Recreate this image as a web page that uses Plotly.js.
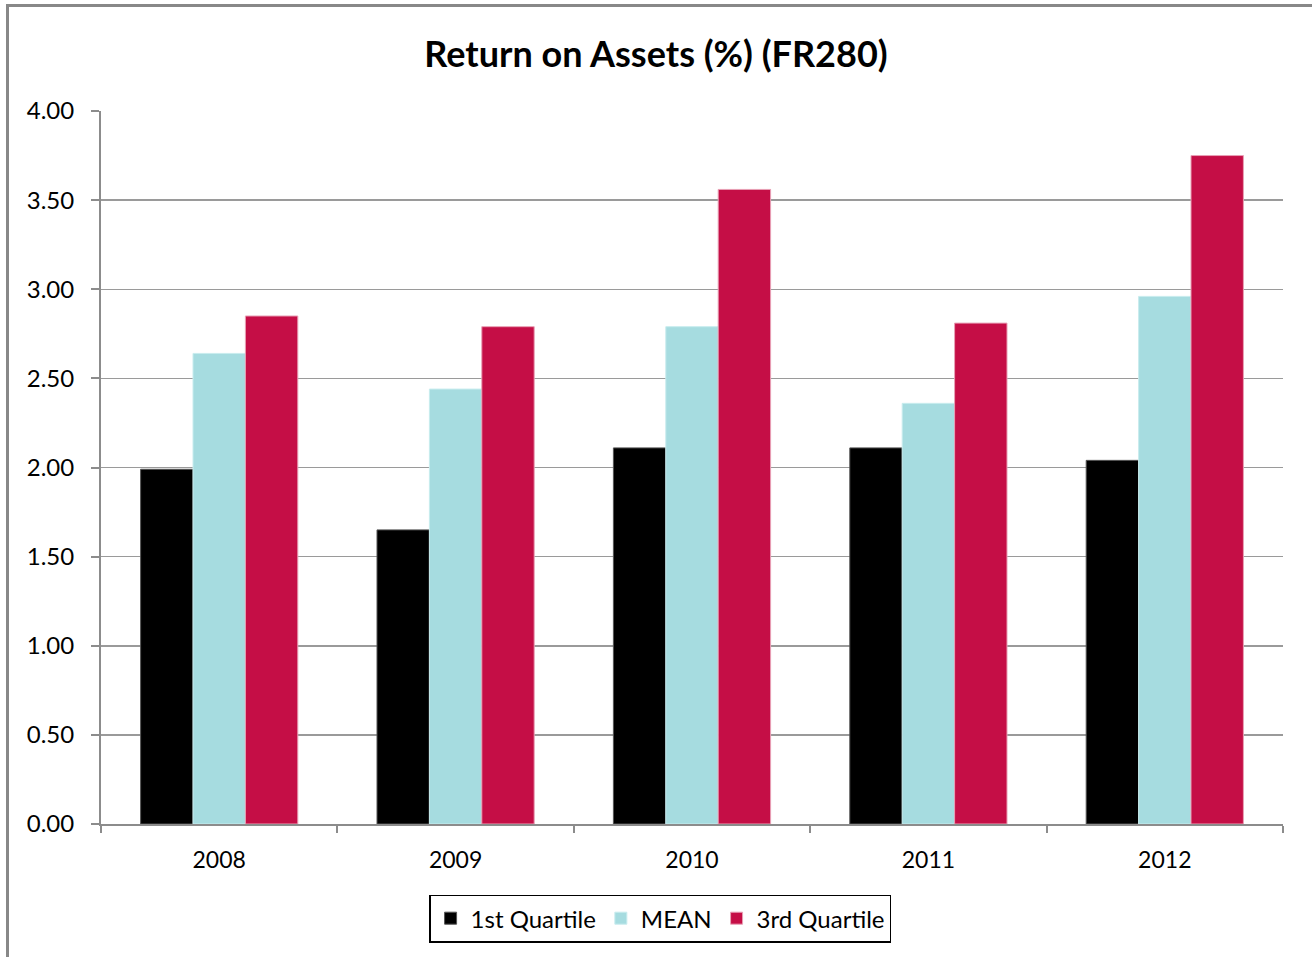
<!DOCTYPE html>
<html>
<head>
<meta charset="utf-8">
<script src="https://cdn.plot.ly/plotly-3.0.1.min.js"></script>
<style>
  html, body { margin: 0; padding: 0; background: #fff; }
  #wrap { position: relative; width: 1312px; height: 957px; overflow: hidden; }
  #chart { position: absolute; left: 0; top: 0; width: 1312px; height: 957px; }
  #frame { position: absolute; left: 6px; top: 4px; width: 1303px; height: 970px;
           border: 3px solid #888888; pointer-events: none; }
</style>
</head>
<body>
<div id="wrap">
  <div id="chart"></div>
  <div id="frame"></div>
</div>
<script>
const years = ['2008', '2009', '2010', '2011', '2012'];
const firstQuartile = [1.99, 1.65, 2.11, 2.11, 2.04];
const meanValues = [2.64, 2.44, 2.79, 2.36, 2.96];
const thirdQuartile = [2.85, 2.79, 3.56, 2.81, 3.75];
const seriesNames = ['1st Quartile', 'MEAN', '3rd Quartile'];

const FONT = 'Lato, "Open Sans", "DejaVu Sans", sans-serif';

const traces = [
  { type: 'bar', name: seriesNames[0], x: years, y: firstQuartile,
    marker: { color: '#000000', line: { color: '#555555', width: 1 } } },
  { type: 'bar', name: seriesNames[1], x: years, y: meanValues,
    marker: { color: '#A6DCE0', line: { color: '#C8ECEE', width: 1 } } },
  { type: 'bar', name: seriesNames[2], x: years, y: thirdQuartile,
    marker: { color: '#C50E46', line: { color: '#E8A0B5', width: 1 } } }
];

const layout = {
  width: 1312, height: 957,
  paper_bgcolor: '#ffffff', plot_bgcolor: '#ffffff',
  margin: { l: 101, r: 29, t: 111, b: 133 },
  barmode: 'group', bargap: 0.335, bargroupgap: 0,
  font: { family: FONT, color: '#000000', size: 23 },
  title: {
    text: '<b>Return on Assets (%) (FR280)</b>',
    font: { family: FONT, size: 36, color: '#000000' },
    x: 0.5, xref: 'container', xanchor: 'center',
    y: 1 - 54 / 957, yref: 'container', yanchor: 'middle'
  },
  xaxis: {
    type: 'category',
    showline: true, linecolor: '#8C8C8C', linewidth: 2,
    ticks: 'outside', tickson: 'boundaries', ticklen: 7, tickwidth: 2, tickcolor: '#8C8C8C',
    ticklabelstandoff: 14,
    showgrid: false, zeroline: false,
    tickfont: { family: FONT, size: 23, color: '#000000' }
  },
  yaxis: {
    range: [0, 4], dtick: 0.5, tick0: 0, tickformat: '.2f',
    showline: true, linecolor: '#8C8C8C', linewidth: 2,
    ticks: 'outside', ticklen: 8, tickwidth: 2, tickcolor: '#8C8C8C',
    ticklabelstandoff: 12,
    showgrid: true, gridcolor: '#9A9A9A', gridwidth: 1.5,
    zeroline: false,
    tickfont: { family: FONT, size: 24, color: '#000000' }
  },
  showlegend: true,
  legend: {
    orientation: 'h',
    x: 0.473, xanchor: 'center',
    y: -0.099, yanchor: 'top',
    bordercolor: '#000000', borderwidth: 1.5,
    bgcolor: '#ffffff',
    font: { family: FONT, size: 24, color: '#000000' },
    itemwidth: 30, tracegroupgap: 0
  }
};

Plotly.newPlot('chart', traces, layout, { displayModeBar: false, staticPlot: true });
</script>
</body>
</html>
